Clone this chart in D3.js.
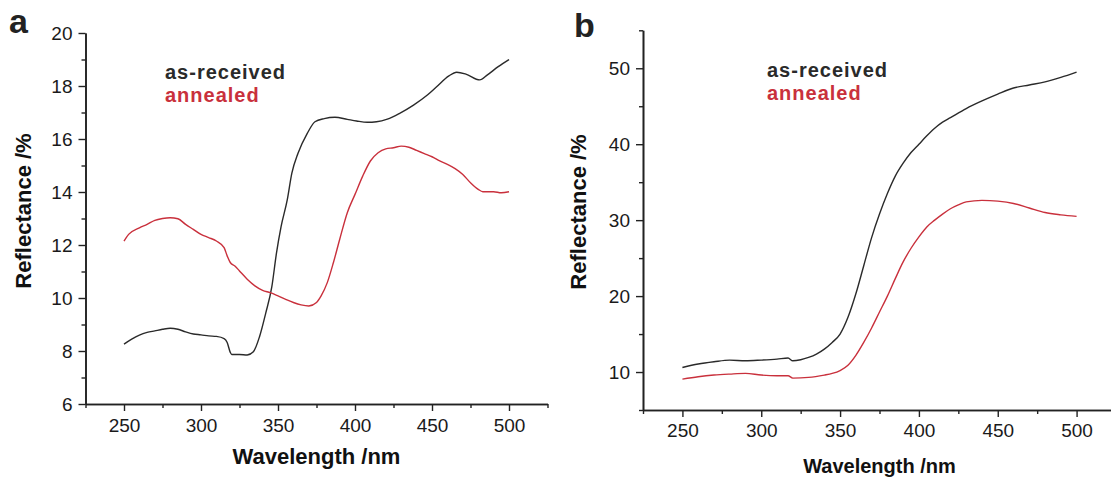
<!DOCTYPE html>
<html>
<head>
<meta charset="utf-8">
<script src="https://cdn.jsdelivr.net/npm/d3@7"></script>
<style>
  body { margin: 0; background: #fff; }
  svg { display: block; font-family: "Liberation Sans", Arial, sans-serif; }
</style>
</head>
<body>
<svg id="chart" width="1111" height="477"></svg>
<script>
// panel a - as-received
var aBlackX = [250,255,260,265,270,275,280,285,290,295,300,305,310,315,317,319,320,325,330,334,338,342,346,349,352,356,359,363,369,374,380,387,395,401,408,414,421,429,438,447,453,461,466,472,481,486,493,500];
var aBlackY = [8.26,8.45,8.6,8.7,8.76,8.82,8.86,8.82,8.72,8.64,8.61,8.57,8.55,8.47,8.32,7.95,7.87,7.87,7.85,7.97,8.54,9.42,10.43,11.69,12.69,13.70,14.71,15.46,16.21,16.65,16.77,16.82,16.74,16.68,16.63,16.65,16.75,16.97,17.28,17.66,17.97,18.38,18.52,18.45,18.23,18.42,18.73,19.0];
// panel a - annealed
var aRedX = [250,253,260,265,270,275,280,285,290,295,300,305,310,315,317,319,322,325,330,335,340,345,350,355,360,365,370,375,378,382,386,390,395,400,405,410,415,420,425,430,435,440,445,450,455,460,465,470,475,480,483,490,495,500];
var aRedY = [12.15,12.40,12.65,12.78,12.93,13.0,13.03,12.99,12.78,12.59,12.40,12.28,12.15,11.9,11.59,11.34,11.21,11.02,10.71,10.46,10.29,10.2,10.08,9.95,9.83,9.74,9.7,9.83,10.08,10.58,11.34,12.2,13.22,13.91,14.6,15.17,15.48,15.63,15.67,15.73,15.69,15.57,15.45,15.33,15.17,15.04,14.88,14.66,14.35,14.1,14.01,14.01,13.97,14.01];
// panel b - as-received
var bBlackX = [250,260,270,280,290,300,310,317,320,325,330,335,340,345,350,355,360,365,370,375,380,385,390,395,400,405,410,415,420,430,440,450,460,470,480,490,500];
var bBlackY = [10.6,11.05,11.35,11.57,11.48,11.57,11.7,11.84,11.48,11.62,11.92,12.36,13.02,13.9,15.0,17.2,20.3,24.0,27.7,30.8,33.5,35.8,37.5,38.9,40.0,41.1,42.1,42.9,43.5,44.7,45.7,46.6,47.4,47.8,48.2,48.8,49.5];
// panel b - annealed
var bRedX = [250,260,270,280,290,300,310,317,320,330,340,345,350,355,360,365,370,375,380,385,390,395,400,405,410,415,420,425,430,440,450,460,470,480,490,500];
var bRedY = [9.07,9.38,9.6,9.73,9.82,9.6,9.51,9.51,9.2,9.29,9.6,9.82,10.2,10.9,12.2,13.9,15.8,17.9,20.0,22.3,24.5,26.3,27.8,29.1,30.0,30.8,31.5,32.0,32.4,32.6,32.5,32.2,31.6,31.0,30.7,30.5];

var xMajor = [250,300,350,400,450,500];
var xMinor = [225,275,325,375,425,475,525];
var aYMajor = [6,8,10,12,14,16,18,20];
var aYMinor = [7,9,11,13,15,17,19];
var bYMajor = [10,20,30,40,50];
var bYMinor = [5,15,25,35,45,55];
var legendLabels = ["as-received", "annealed"];

var black = "#2a2a2a", red = "#c9303c", axisCol = "#222";
var svg = d3.select("#chart");

function pairs(xs, ys) {
    return xs.map(function(x, i){ return [x, ys[i]]; });
}

function panel(o) {
    var x = d3.scaleLinear().domain([225, 525]).range([o.left, o.right]);
    var y = d3.scaleLinear().domain(o.yDomain).range([o.bottom, o.top]);
    var g = svg.append("g");

    // axes: major + minor ticks, all outside
    g.append("g").attr("transform", "translate(0," + o.bottom + ")")
        .call(d3.axisBottom(x).tickValues(xMajor).tickSize(7).tickPadding(o.xPad).tickSizeOuter(0).tickFormat(d3.format("d")));
    g.append("g").attr("transform", "translate(0," + o.bottom + ")")
        .call(d3.axisBottom(x).tickValues(xMinor).tickSize(4).tickSizeOuter(0).tickFormat(""));
    g.append("g").attr("transform", "translate(" + o.left + ",0)")
        .call(d3.axisLeft(y).tickValues(o.yMajor).tickSize(7).tickPadding(6).tickSizeOuter(0).tickFormat(d3.format("d")));
    g.append("g").attr("transform", "translate(" + o.left + ",0)")
        .call(d3.axisLeft(y).tickValues(o.yMinor).tickSize(4).tickSizeOuter(0).tickFormat(""));

    g.selectAll(".domain").attr("stroke", axisCol).attr("stroke-width", 1.6);
    g.selectAll(".tick line").attr("stroke", axisCol).attr("stroke-width", 1.4);
    g.selectAll(".tick text").attr("fill", "#1a1a1a").style("font-size", "19px")
        .style("font-family", "'Liberation Sans', Arial, sans-serif");

    var line = d3.line()
        .x(function(d){ return x(d[0]); })
        .y(function(d){ return y(d[1]); })
        .curve(d3.curveMonotoneX);

    g.append("path").datum(pairs(o.bx, o.by))
        .attr("d", line).attr("fill", "none").attr("stroke", black).attr("stroke-width", 1.4);
    g.append("path").datum(pairs(o.rx, o.ry))
        .attr("d", line).attr("fill", "none").attr("stroke", red).attr("stroke-width", 1.4);

    // legend
    g.selectAll(".lg").data(legendLabels).enter().append("text")
        .attr("x", o.legX)
        .attr("y", function(d, i){ return o.legY + i * 23; })
        .attr("fill", function(d, i){ return i === 0 ? black : red; })
        .style("font-size", "20px").style("font-weight", "bold").style("letter-spacing", "1px")
        .text(function(d){ return d; });

    // panel letter
    g.append("text").attr("x", o.letterX).attr("y", o.letterY)
        .style("font-size", "34px").style("font-weight", "bold").attr("fill", "#222")
        .text(o.letter);

    // axis titles
    g.append("text")
        .attr("transform", "translate(" + o.yTitleX + "," + o.yTitleY + ") rotate(-90)")
        .attr("text-anchor", "middle").attr("fill", "#111")
        .style("font-size", "22px").style("font-weight", "bold")
        .text("Reflectance /%");
    g.append("text")
        .attr("x", o.xTitleX).attr("y", o.xTitleY)
        .attr("text-anchor", "middle").attr("fill", "#111")
        .style("font-size", o.xTitleSize + "px").style("font-weight", "bold")
        .text("Wavelength /nm");
}

panel({
    left: 85.5, right: 547.5, top: 33, bottom: 404,
    yDomain: [6, 20], yMajor: aYMajor, yMinor: aYMinor, xPad: 8,
    bx: aBlackX, by: aBlackY, rx: aRedX, ry: aRedY,
    legX: 165, legY: 79, letter: "a", letterX: 9, letterY: 33,
    yTitleX: 31, yTitleY: 211, xTitleX: 316.5, xTitleY: 464, xTitleSize: 22
});

panel({
    left: 643, right: 1116, top: 30.3, bottom: 410,
    yDomain: [5, 55], yMajor: bYMajor, yMinor: bYMinor, xPad: 7,
    bx: bBlackX, by: bBlackY, rx: bRedX, ry: bRedY,
    legX: 767, legY: 77, letter: "b", letterX: 574, letterY: 37,
    yTitleX: 586, yTitleY: 212, xTitleX: 879.5, xTitleY: 473, xTitleSize: 20
});
</script>
</body>
</html>
